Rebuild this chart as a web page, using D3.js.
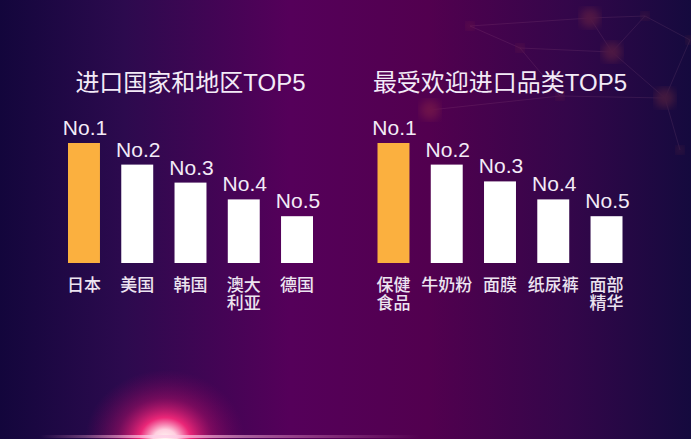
<!DOCTYPE html>
<html>
<head>
<meta charset="utf-8">
<script src="https://cdn.jsdelivr.net/npm/d3@7"></script>
<style>
	html, body { margin: 0; padding: 0; background: #1a0842; }
	svg { display: block; }
	.title { fill: #f3ebf7; font-size: 24px; }
	.rank { fill: #f3ebf7; font-size: 21px; }
	.cat { fill: #ece4f0; font-size: 17px; font-weight: 500; }
	text { font-family: "Liberation Sans", Arial, "Noto Sans CJK SC", sans-serif; }
</style>
</head>
<body>
<div class="chart__top"><svg></svg></div>
<script>
(function() {

	// data
	var titles = ['进口国家和地区TOP5', '最受欢迎进口品类TOP5']
	var rankLabels = ['No.1', 'No.2', 'No.3', 'No.4', 'No.5']
	var countries = [['日本'], ['美国'], ['韩国'], ['澳大', '利亚'], ['德国']]
	var countryValues = [100, 82, 67, 53, 39]
	var products = [['保健', '食品'], ['牛奶粉'], ['面膜'], ['纸尿裤'], ['面部', '精华']]
	var productValues = [100, 82, 68, 53, 39]

	// faint network in the top right corner (decoration only)
	var netNodes = [[590, 18], [645, 16], [690, 40], [612, 52], [470, 26], [520, 48], [665, 98], [560, 96], [680, 150], [430, 110]]
	var netLinks = [[0, 1], [1, 2], [0, 3], [3, 1], [4, 5], [5, 3], [3, 6], [6, 2], [5, 7], [7, 6], [6, 8], [4, 0], [9, 7]]

	var width = 691
	var height = 439
	var svg = d3.select('.chart__top svg').attr('width', width).attr('height', height)

	var barTop = 143
	var barBottom = 263
	var panels = [
		{ title: titles[0], cats: countries, values: countryValues, x0: 68, x1: 313 },
		{ title: titles[1], cats: products, values: productValues, x0: 377.5, x1: 622.5 }
	]

	var yScale = d3.scaleLinear().domain([0, 100]).range([barBottom, barTop])

	function drawBackground() {
		var defs = svg.append('defs')

		var bg = defs.append('linearGradient').attr('id', 'bg')
		bg.selectAll('stop')
			.data([[0, '#13063c'], [0.18, '#2c0a4e'], [0.42, '#55005a'], [0.62, '#52004f'], [0.82, '#34064a'], [1, '#150a3e']])
			.enter().append('stop')
			.attr('offset', function(d) { return d[0] })
			.attr('stop-color', function(d) { return d[1] })

		var glow = defs.append('radialGradient').attr('id', 'glow')
		glow.selectAll('stop')
			.data([[0, '#fffaf4', 1], [0.15, '#ffd0e0', 1], [0.32, '#ff2a7c', 0.9], [0.6, '#c0106a', 0.45], [1, '#8a0060', 0]])
			.enter().append('stop')
			.attr('offset', function(d) { return d[0] })
			.attr('stop-color', function(d) { return d[1] })
			.attr('stop-opacity', function(d) { return d[2] })

		var streak = defs.append('linearGradient').attr('id', 'streak')
		streak.selectAll('stop')
			.data([[0, '#ff9ccc', 0], [0.3, '#ffd0e8', 0.8], [0.6, '#ffb0d8', 0.45], [1, '#ff9ccc', 0]])
			.enter().append('stop')
			.attr('offset', function(d) { return d[0] })
			.attr('stop-color', function(d) { return d[1] })
			.attr('stop-opacity', function(d) { return d[2] })

		defs.append('filter').attr('id', 'blur')
			.append('feGaussianBlur').attr('stdDeviation', 4)

		svg.append('rect').attr('width', width).attr('height', height).attr('fill', 'url(#bg)')

		var net = svg.append('g').attr('class', 'net').attr('opacity', 0.22)
		net.selectAll('line')
			.data(netLinks)
			.enter().append('line')
			.attr('x1', function(d) { return netNodes[d[0]][0] })
			.attr('y1', function(d) { return netNodes[d[0]][1] })
			.attr('x2', function(d) { return netNodes[d[1]][0] })
			.attr('y2', function(d) { return netNodes[d[1]][1] })
			.attr('stroke', '#c07a9a')
			.attr('stroke-width', 0.6)
		net.selectAll('circle')
			.data(netNodes)
			.enter().append('circle')
			.attr('cx', function(d) { return d[0] })
			.attr('cy', function(d) { return d[1] })
			.attr('r', function(d, i) { return i % 3 === 0 ? 10 : 4 })
			.attr('fill', '#d0553a')
			.attr('filter', 'url(#blur)')

		svg.append('ellipse')
			.attr('cx', 165).attr('cy', 440)
			.attr('rx', 80).attr('ry', 70)
			.attr('fill', 'url(#glow)')
		svg.append('rect')
			.attr('x', 40).attr('y', 435)
			.attr('width', 380).attr('height', 3)
			.attr('fill', 'url(#streak)')
	}

	function drawPanel(p) {
		var g = svg.append('g').attr('class', 'panel')

		var x = d3.scaleBand()
			.domain(d3.range(p.values.length))
			.range([p.x0, p.x1])
			.paddingInner(0.4)
			.paddingOuter(0)

		g.append('text')
			.attr('class', 'title')
			.attr('x', (p.x0 + p.x1) / 2)
			.attr('y', 91)
			.attr('text-anchor', 'middle')
			.text(p.title)

		g.selectAll('.bar')
			.data(p.values)
			.enter()
			.append('rect')
			.attr('class', 'bar')
			.attr('x', function(d, i) { return x(i) })
			.attr('y', function(d) { return yScale(d) })
			.attr('width', x.bandwidth())
			.attr('height', function(d) { return yScale(0) - yScale(d) })
			.attr('fill', function(d, i) { return i === 0 ? '#fbb03f' : '#ffffff' })

		g.selectAll('.rank')
			.data(p.values)
			.enter()
			.append('text')
			.attr('class', 'rank')
			.attr('text-anchor', 'middle')
			.attr('x', function(d, i) { return x(i) + x.bandwidth() / 2 + 1 })
			.attr('y', function(d) { return yScale(d) - 8 })
			.text(function(d, i) { return rankLabels[i] })

		var cats = g.selectAll('.cat')
			.data(p.cats)
			.enter()
			.append('text')
			.attr('class', 'cat')
			.attr('text-anchor', 'middle')
			.attr('x', function(d, i) { return x(i) + x.bandwidth() / 2 })
			.attr('y', 291)

		cats.selectAll('tspan')
			.data(function(d) { return d })
			.enter()
			.append('tspan')
			.attr('x', function() { return d3.select(this.parentNode).attr('x') })
			.attr('dy', function(d, i) { return i === 0 ? 0 : 18 })
			.text(function(d) { return d })
	}

	function init() {
		drawBackground()
		panels.forEach(drawPanel)
	}

	init()
})()
</script>
</body>
</html>
